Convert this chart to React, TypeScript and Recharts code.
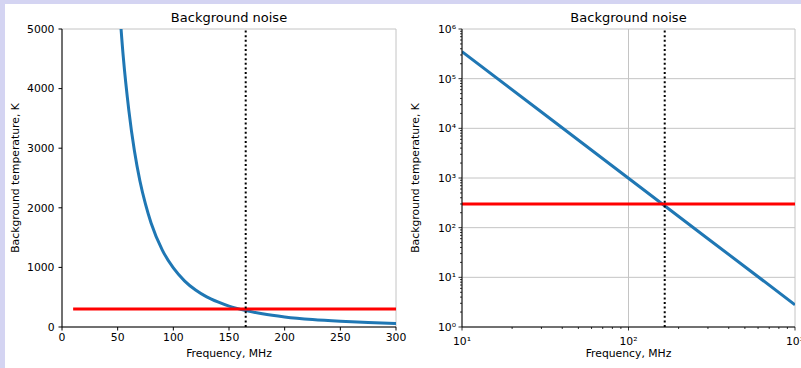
import React from 'react';
import { LineChart, Line, XAxis, YAxis, CartesianGrid, ReferenceLine } from 'recharts';

// values
const linFreqs = [50, 55, 60, 65, 70, 75, 80, 90, 100, 110, 120, 130, 140, 150, 165, 180, 200, 225, 250, 275, 300];
const linTemps = [5790, 4540, 3640, 2960, 2450, 2060, 1745, 1295, 990, 775, 620, 505, 420, 350, 276, 221, 169, 125, 96, 75, 60];
const logFreqs = [10, 30, 100, 300, 1000];
const logTemps = [350000, 21300, 990, 60, 2.8];
const refTemp = 300;
const refLinFreqs = [10, 300];
const refLogFreqs = [10, 1000];
const cutoffFreq = 165;

const linXTicks = [0, 50, 100, 150, 200, 250, 300];
const linYTicks = [0, 1000, 2000, 3000, 4000, 5000];
const logXMajor = [10, 100, 1000];
const logYMajor = [1, 10, 100, 1000, 10000, 100000, 1000000];
const supers = ['⁰', '¹', '²', '³', '⁴', '⁵', '⁶'];

const FONT = '"DejaVu Sans", sans-serif';
const FS = 10.8;
const BLUE = '#1f77b4';
const GRID = '#c4c4c4';

const minorsOf = (majors: number[]) => {
  const out: number[] = [];
  majors.slice(0, -1).forEach(m => {
    for (let k = 2; k <= 9; k++) out.push(m * k);
  });
  return out;
};

const logXTicks = [...logXMajor, ...minorsOf(logXMajor)];
const logYTicks = [...logYMajor, ...minorsOf(logYMajor)];

const powLabel = (v: number) => '10' + supers[Math.round(Math.log10(v))];
const isMajor = (v: number) => Math.abs(Math.log10(v) - Math.round(Math.log10(v))) < 1e-9;

const LogXTick = (props: any) => {
  const { x, y, payload } = props;
  const major = isMajor(payload.value);
  return (
    <g>
      <line x1={x} x2={x} y1={y} y2={y + (major ? 3.5 : 2)} stroke="#000" strokeWidth={0.8} />
      {major && (
        <text x={x} y={y + 18} textAnchor="middle" fontSize={FS} fontFamily={FONT} fill="#000">
          {powLabel(payload.value)}
        </text>
      )}
    </g>
  );
};

const LogYTick = (props: any) => {
  const { x, y, payload } = props;
  const major = isMajor(payload.value);
  return (
    <g>
      <line x1={x} x2={x - (major ? 3.5 : 2)} y1={y} y2={y} stroke="#000" strokeWidth={0.8} />
      {major && (
        <text x={x - 6} y={y + 4} textAnchor="end" fontSize={FS} fontFamily={FONT} fill="#000">
          {powLabel(payload.value)}
        </text>
      )}
    </g>
  );
};

const YLabel = (props: any) => {
  const { viewBox } = props;
  const x = viewBox.x + 15;
  const y = viewBox.y + viewBox.height / 2;
  return (
    <text x={x} y={y} transform={`rotate(-90, ${x}, ${y})`} textAnchor="middle" dominantBaseline="central"
      fontSize={FS} fontFamily={FONT} fill="#000">
      Background temperature, K
    </text>
  );
};

const XLabel = (props: any) => {
  const { viewBox } = props;
  const x = viewBox.x + viewBox.width / 2;
  return (
    <text x={x} y={viewBox.y + 30} textAnchor="middle" fontSize={FS} fontFamily={FONT} fill="#000">
      Frequency, MHz
    </text>
  );
};

const Title = ({ left, width }: { left: number; width: number }) => (
  <div style={{
    position: 'absolute', top: 10, left, width, textAlign: 'center',
    fontFamily: FONT, fontSize: 13, lineHeight: '15px', color: '#000',
  }}>
    Background noise
  </div>
);

const tickStyle = { fontSize: FS, fontFamily: FONT, fill: '#000' };

const linData = linFreqs.map((f, i) => ({ f, t: linTemps[i] }));
const logData = logFreqs.map((f, i) => ({ f, t: logTemps[i] }));
const refLin = refLinFreqs.map(f => ({ f, t: refTemp }));
const refLog = refLogFreqs.map(f => ({ f, t: refTemp }));

export default function App() {
  return (
    <div style={{ position: 'absolute', left: 0, top: 0, width: 801, height: 368, background: '#d4d4f2', overflow: 'hidden' }}>
      <div style={{ position: 'absolute', left: 5, top: 4, width: 796, height: 364, background: '#fff' }} />

      <div style={{ position: 'absolute', left: 0, top: 0 }}>
        <LineChart width={430} height={368} margin={{ top: 29, right: 34, bottom: 0, left: 0 }}>
          <CartesianGrid stroke={GRID} strokeWidth={1} />
          <XAxis xAxisId="b" dataKey="f" type="number" domain={[0, 300]} ticks={linXTicks} allowDataOverflow
            height={41} tick={tickStyle} tickSize={3.5} tickMargin={3} stroke="#000"
            label={<XLabel />} />
          <XAxis xAxisId="t" orientation="top" type="number" domain={[0, 300]} height={0} tick={false} tickLine={false} stroke="#000" />
          <YAxis yAxisId="l" type="number" domain={[0, 5000]} ticks={linYTicks} allowDataOverflow
            width={62} tick={tickStyle} tickSize={3.5} tickMargin={4} stroke="#000" label={<YLabel />} />
          <YAxis yAxisId="r" orientation="right" type="number" domain={[0, 5000]} width={0} tick={false} tickLine={false} stroke="#000" />
          <Line xAxisId="b" yAxisId="l" data={linData} dataKey="t" type="monotone" stroke={BLUE} strokeWidth={3} dot={false} isAnimationActive={false} />
          <Line xAxisId="b" yAxisId="l" data={refLin} dataKey="t" type="linear" stroke="#ff0000" strokeWidth={3} dot={false} isAnimationActive={false} />
          <ReferenceLine xAxisId="b" yAxisId="l" x={cutoffFreq} stroke="#000" strokeWidth={2} strokeDasharray="2 2.6" />
        </LineChart>
        <Title left={62} width={334} />
      </div>

      <div style={{ position: 'absolute', left: 400, top: 0 }}>
        <LineChart width={401} height={368} margin={{ top: 29, right: 6, bottom: 0, left: 0 }} style={{ overflow: 'visible' }}>
          {logXMajor.map(v => (
            <ReferenceLine key={'gx' + v} xAxisId="b" yAxisId="l" x={v} stroke={GRID} strokeWidth={1} />
          ))}
          {logYMajor.map(v => (
            <ReferenceLine key={'gy' + v} xAxisId="b" yAxisId="l" y={v} stroke={GRID} strokeWidth={1} />
          ))}
          <XAxis xAxisId="b" dataKey="f" type="number" scale="log" domain={[10, 1000]} ticks={logXTicks} allowDataOverflow
            height={41} tick={<LogXTick />} tickLine={false} tickSize={0} tickMargin={0} stroke="#000" interval={0}
            label={<XLabel />} />
          <XAxis xAxisId="t" orientation="top" type="number" scale="log" domain={[10, 1000]} height={0} tick={false} tickLine={false} stroke="#000" />
          <YAxis yAxisId="l" type="number" scale="log" domain={[1, 1000000]} ticks={logYTicks} allowDataOverflow
            width={62} tick={<LogYTick />} tickLine={false} tickSize={0} tickMargin={0} stroke="#000" interval={0}
            label={<YLabel />} />
          <YAxis yAxisId="r" orientation="right" type="number" scale="log" domain={[1, 1000000]} width={0} tick={false} tickLine={false} stroke="#000" />
          <Line xAxisId="b" yAxisId="l" data={logData} dataKey="t" type="linear" stroke={BLUE} strokeWidth={3} dot={false} isAnimationActive={false} />
          <Line xAxisId="b" yAxisId="l" data={refLog} dataKey="t" type="linear" stroke="#ff0000" strokeWidth={3} dot={false} isAnimationActive={false} />
          <ReferenceLine xAxisId="b" yAxisId="l" x={cutoffFreq} stroke="#000" strokeWidth={2} strokeDasharray="2 2.6" />
        </LineChart>
        <Title left={62} width={333} />
      </div>
    </div>
  );
}
